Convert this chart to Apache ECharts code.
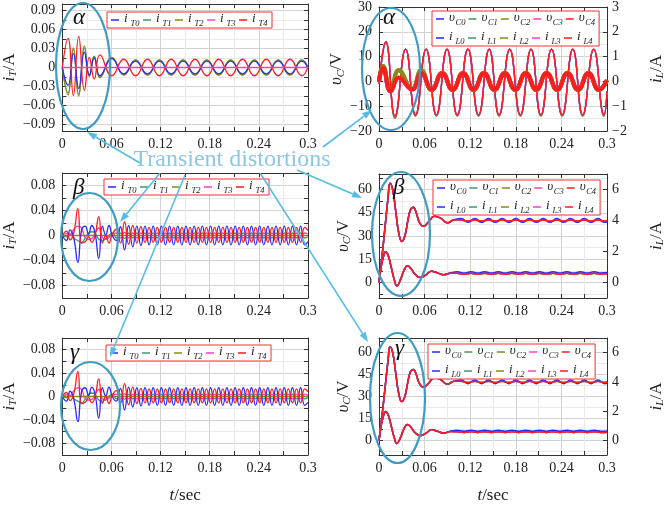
<!DOCTYPE html>
<html>
<head>
<meta charset="utf-8">
<script src="https://cdn.jsdelivr.net/npm/echarts@6/dist/echarts.min.js"></script>
<style>
html, body { margin: 0; padding: 0; background: #fff; }
#main { width: 667px; height: 505px; }
</style>
</head>
<body>
<div id="main"></div>
<script>
// ---------- tick values ----------
const xTicks = [0, 0.03, 0.06, 0.09, 0.12, 0.15, 0.18, 0.21, 0.24, 0.27, 0.3];
const xLabels = [0, 0.06, 0.12, 0.18, 0.24, 0.3];
const iTTicksA = [-0.09, -0.075, -0.06, -0.045, -0.03, -0.015, 0, 0.015, 0.03, 0.045, 0.06, 0.075, 0.09];
const iTLabelsA = [-0.09, -0.06, -0.03, 0, 0.03, 0.06, 0.09];
const iTTicksB = [-0.08, -0.06, -0.04, -0.02, 0, 0.02, 0.04, 0.06, 0.08];
const iTLabelsB = [-0.08, -0.04, 0, 0.04, 0.08];
const vTicksA = [-20, -15, -10, -5, 0, 5, 10, 15, 20, 25, 30];
const vLabelsA = [-20, -10, 0, 10, 20, 30];
const iLTicksA = [-2, -1, 0, 1, 2, 3];
const vTicksB = [-7.5, 0, 7.5, 15, 22.5, 30, 37.5, 45, 52.5, 60, 67.5];
const vLabelsB = [0, 15, 30, 45, 60];
const iLTicksB = [0, 2, 4, 6];

// ---------- alpha: transformer currents ----------
const tTa = [0, 0.007, 0.0135, 0.02, 0.027, 0.033, 0.039, 0.046, 0.0605, 0.075, 0.0895, 0.104, 0.1185,
  0.133, 0.1475, 0.162, 0.1765, 0.191, 0.2055, 0.22, 0.2345, 0.249, 0.2635, 0.278, 0.2925, 0.3];
const iT0a = [0, -0.028, 0.022, -0.033, 0.024, -0.012, 0.015, -0.013, 0.014,
  -0.010, 0.010, -0.010, 0.010, -0.010, 0.010, -0.010, 0.010,
  -0.010, 0.010, -0.010, 0.010, -0.010, 0.010, -0.010, 0.010, -0.001];
const iT1a = [0, -0.040, 0.029, -0.042, 0.031, -0.013, 0.017, -0.015, 0.015,
  -0.0115, 0.0115, -0.0115, 0.0115, -0.0115, 0.0115, -0.0115, 0.0115,
  -0.0115, 0.0115, -0.0115, 0.0115, -0.0115, 0.0115, -0.0115, 0.0115, -0.001];
const iT2a = [0, -0.043, 0.031, -0.045, 0.034, -0.014, 0.018, -0.016, 0.016,
  -0.012, 0.012, -0.012, 0.012, -0.012, 0.012, -0.012, 0.012,
  -0.012, 0.012, -0.012, 0.012, -0.012, 0.012, -0.012, 0.012, -0.001];
const iT4a = [0, 0.046, -0.044, 0.049, -0.036, 0.016, -0.018, 0.020, -0.013,
  0.013, -0.013, 0.013, -0.013, 0.013, -0.013, 0.013, -0.013,
  0.013, -0.013, 0.013, -0.013, 0.013, -0.013, 0.013, -0.013, 0.001];
const tFlat = [0, 0.3];
const flat0 = [0, 0];

// ---------- beta / gamma: transformer currents ----------
const tTb = [0, 0.005, 0.0095, 0.014, 0.019, 0.0235, 0.028, 0.032, 0.036, 0.04, 0.0445, 0.049, 0.053, 0.057, 0.061, 0.066, 0.071, 0.076,
  0.081, 0.086, 0.091, 0.096, 0.101, 0.106, 0.111, 0.116, 0.121, 0.126, 0.131, 0.136, 0.141, 0.146, 0.151, 0.156,
  0.161, 0.166, 0.171, 0.176, 0.181, 0.186, 0.191, 0.196, 0.201, 0.206, 0.211, 0.216, 0.221, 0.226, 0.231, 0.236,
  0.241, 0.246, 0.251, 0.256, 0.261, 0.266, 0.271, 0.276, 0.281, 0.286, 0.291, 0.296, 0.3];
const iT0b = [0, -0.008, 0.009, -0.004, -0.043, 0.008, 0.015, 0.002, 0.016, 0.004, -0.037, 0.015, 0.001, 0.016, 0.000, -0.008, 0.014, -0.023,
  0.016, -0.018, 0.015, -0.016,
  0.015, -0.015, 0.015, -0.015, 0.015, -0.015, 0.015, -0.015, 0.015, -0.015,
  0.015, -0.015, 0.015, -0.015, 0.015, -0.015, 0.015, -0.015, 0.015, -0.015,
  0.015, -0.015, 0.015, -0.015, 0.015, -0.015, 0.015, -0.015, 0.015, -0.015,
  0.015, -0.015, 0.015, -0.015, 0.015, -0.015, 0.015, -0.015, 0.015, -0.015,
  -0.010];
const iT1b = [0, -0.002, 0.002, -0.004, -0.008, -0.011, -0.004, 0.004, 0.006, 0.004, -0.006, -0.008, -0.005, 0.000, 0.004, -0.004, 0.004, -0.005,
  0.004, -0.004, 0.004, -0.004, 0.004, -0.004, 0.004, -0.004, 0.004, -0.004, 0.004,
  -0.004, 0.004, -0.004, 0.004, -0.004, 0.004, -0.004, 0.004, -0.004, 0.004, -0.004,
  0.004, -0.004, 0.004, -0.004, 0.004, -0.004, 0.004, -0.004, 0.004, -0.004, 0.004,
  -0.004, 0.004, -0.004, 0.004, -0.004, 0.004, -0.004, 0.004, -0.004, 0.004, -0.004,
  -0.002];
const iT3b = [0, 0.003, 0.002, 0.010, 0.015, 0.012, -0.004, -0.006, -0.005, 0.004, 0.012, -0.004, -0.006, -0.003, 0.002, 0.004, -0.004, 0.005,
  -0.004, 0.004, -0.004, 0.004, -0.004, 0.004, -0.004, 0.004, -0.004, 0.004, -0.004,
  0.004, -0.004, 0.004, -0.004, 0.004, -0.004, 0.004, -0.004, 0.004, -0.004, 0.004,
  -0.004, 0.004, -0.004, 0.004, -0.004, 0.004, -0.004, 0.004, -0.004, 0.004, -0.004,
  0.004, -0.004, 0.004, -0.004, 0.004, -0.004, 0.004, -0.004, 0.004, -0.004, 0.004,
  0.002];
const iT4b = [0, 0.007, -0.007, 0.004, 0.043, -0.012, -0.010, -0.002, -0.011, 0.000, 0.030, -0.012, 0.000, -0.012, 0.002, 0.010, -0.012, 0.022,
  -0.014, 0.016, -0.012, 0.014,
  -0.011, 0.013, -0.011, 0.013, -0.011, 0.013, -0.011, 0.013, -0.011, 0.013,
  -0.011, 0.013, -0.011, 0.013, -0.011, 0.013, -0.011, 0.013, -0.011, 0.013,
  -0.011, 0.013, -0.011, 0.013, -0.011, 0.013, -0.011, 0.013, -0.011, 0.013,
  -0.011, 0.013, -0.011, 0.013, -0.011, 0.013, -0.011, 0.013, -0.011, 0.013,
  0.008];

// ---------- alpha: capacitor voltage and inductor current ----------
const tVa = [0, 0.009, 0.021, 0.035, 0.048, 0.062, 0.0755, 0.0895, 0.103, 0.117, 0.131, 0.145, 0.158,
  0.172, 0.186, 0.2, 0.213, 0.227, 0.241, 0.255, 0.268, 0.2825, 0.296, 0.3];
const vC4a = [-1, 16, -14, 13, -13.5, 13, -13.5, 13, -13.5, 13, -13.5, 13, -13.5,
  13, -13.5, 13, -13.5, 13, -13.5, 13, -13.5, 13, -13.5, -4];
const vC2a = [-1, 15.5, -15, 13, -14, 13, -14, 13, -14, 13, -14, 13, -14,
  13, -14, 13, -14, 13, -14, 13, -14, 13, -14, -4];
const tIa = [0, 0.0052, 0.0153, 0.026, 0.0435, 0.0556, 0.0694, 0.0831, 0.0969, 0.1106, 0.1244, 0.1381,
  0.1519, 0.1656, 0.1794, 0.1931, 0.2069, 0.2206, 0.2344, 0.2481, 0.2619, 0.2756, 0.2894, 0.3];
const iL4a = [0, 0.55, -0.40, 0.15, -0.32, 0.33, -0.33, 0.33, -0.33, 0.33, -0.33, 0.33,
  -0.33, 0.33, -0.33, 0.33, -0.33, 0.33, -0.33, 0.33, -0.33, 0.33, -0.33, 0.05];
const iL2a = [0, 0.62, -0.38, 0.45, -0.30, 0.45, -0.35, 0.35, -0.35, 0.35, -0.35, 0.35,
  -0.35, 0.35, -0.35, 0.35, -0.35, 0.35, -0.35, 0.35, -0.35, 0.35, -0.35, 0.05];

// ---------- beta / gamma: capacitor voltage and inductor current ----------
const tVb = [0, 0.004, 0.008, 0.012, 0.0145, 0.018, 0.022, 0.026, 0.03, 0.034, 0.038, 0.0415, 0.045, 0.049, 0.053, 0.0585, 0.065, 0.073, 0.081, 0.09, 0.099,
  0.108, 0.117, 0.126, 0.135, 0.144, 0.153, 0.162, 0.171, 0.18, 0.189, 0.198,
  0.207, 0.216, 0.225, 0.234, 0.243, 0.252, 0.261, 0.27, 0.279, 0.288, 0.297, 0.3];
const vC4b = [0, 17, 36, 55, 64, 60, 46, 32, 26.5, 30, 40, 47, 48.5, 45, 39, 36.3, 39, 42.8, 41.5, 38.5, 40.5,
  40.4, 39.6, 40.4, 39.6, 40.4, 39.6, 40.4, 39.6, 40.4, 39.6, 40.4,
  39.6, 40.4, 39.6, 40.4, 39.6, 40.4, 39.6, 40.4, 39.6, 40.4, 39.6, 40];
const vC0b = [0, 17, 36, 55, 64, 60, 46, 32, 26.5, 30, 40, 47, 48.5, 45, 39, 36.3, 39, 42.8, 41.5, 38.5, 40.5,
  41.3, 38.8, 41.3, 38.8, 41.3, 38.8, 41.3, 38.8, 41.3, 38.8, 41.3,
  38.8, 41.3, 38.8, 41.3, 38.8, 41.3, 38.8, 41.3, 38.8, 41.3, 38.8, 39];
const tIb = [0, 0.003, 0.006, 0.0085, 0.012, 0.016, 0.02, 0.0235, 0.028, 0.033, 0.0375, 0.042, 0.048, 0.0545, 0.062, 0.069, 0.077, 0.085, 0.094,
  0.103, 0.112, 0.121, 0.13, 0.139, 0.148, 0.157, 0.166, 0.175, 0.184, 0.193,
  0.202, 0.211, 0.22, 0.229, 0.238, 0.247, 0.256, 0.265, 0.274, 0.283, 0.292, 0.3];
const iL4b = [0, 1.05, 1.7, 1.98, 1.75, 1.0, 0.2, -0.22, 0.15, 0.8, 1.08, 0.9, 0.5, 0.32, 0.5, 0.72, 0.62, 0.5, 0.6,
  0.59, 0.54, 0.59, 0.54, 0.59, 0.54, 0.59, 0.54, 0.59, 0.54, 0.59,
  0.54, 0.59, 0.54, 0.59, 0.54, 0.59, 0.54, 0.59, 0.54, 0.59, 0.54, 0.56];
const iL0b = [0, 1.05, 1.7, 1.98, 1.75, 1.0, 0.2, -0.22, 0.15, 0.8, 1.08, 0.9, 0.5, 0.32, 0.5, 0.72, 0.62, 0.5, 0.62,
  0.69, 0.62, 0.69, 0.62, 0.69, 0.62, 0.69, 0.62, 0.69, 0.62, 0.69,
  0.62, 0.69, 0.62, 0.69, 0.62, 0.69, 0.62, 0.69, 0.62, 0.69, 0.62, 0.64];

// ---------- styling ----------
const SERIF = '"Liberation Serif", "DejaVu Serif", serif';
const C = ['#2a2aff', '#3f9a62', '#8a8a12', '#ff3ccb', '#ff1c1c'];
const MAJ = '#d2d2d2', MIN = '#e9e9e9';
const AX = '#333';

const grids = [
  { left: 61, top: 4, width: 247, height: 127 },   // alpha iT
  { left: 379, top: 5, width: 248, height: 126 },  // alpha vC/iL
  { left: 61, top: 173, width: 247, height: 125 }, // beta iT
  { left: 379, top: 174, width: 248, height: 124 },// beta vC/iL
  { left: 61, top: 338, width: 247, height: 127 }, // gamma iT
  { left: 379, top: 338, width: 248, height: 127 } // gamma vC/iL
];

const fmt = v => (v < 0 ? '\u2212' : '') + Math.abs(v);

const nameRich = {
  v: { fontFamily: SERIF, fontStyle: 'italic', fontSize: 17, color: '#222' },
  s: { fontFamily: SERIF, fontStyle: 'italic', fontSize: 11, color: '#222', padding: [8, 0, 0, 0] },
  n: { fontFamily: SERIF, fontSize: 17, color: '#222' }
};
const legRich = {
  v: { fontFamily: SERIF, fontStyle: 'italic', fontSize: 13, color: '#222', width: 6.5, lineHeight: 13, padding: [0, 0, 3, 0] },
  s: { fontFamily: SERIF, fontStyle: 'italic', fontSize: 8.5, color: '#222', width: 9.5, lineHeight: 9, padding: [7, 0, 0, 0] }
};

function xAxis(g, top) {
  const named = !top && (g === 4 || g === 5);
  return {
    type: 'value', gridIndex: g, position: top ? 'top' : 'bottom', min: 0, max: 0.3,
    axisLine: { show: true, onZero: false, lineStyle: { color: AX, width: 1 } },
    axisTick: { show: true, inside: true, length: 4, customValues: xTicks, lineStyle: { color: AX } },
    axisLabel: { show: !top, customValues: xLabels, margin: 6, fontFamily: SERIF, fontSize: 14, color: '#222', formatter: fmt },
    splitLine: { show: !top, lineStyle: { color: [MAJ, MIN], width: 1 } },
    name: named ? '{v|t}{n|/sec}' : '', nameLocation: 'middle', nameGap: 32,
    nameTextStyle: { rich: nameRich }
  };
}

function yAxis(g, right, min, max, ticks, labels, showLabel, name, colors, gap) {
  return {
    type: 'value', gridIndex: g, position: right ? 'right' : 'left', min: min, max: max,
    axisLine: { show: true, onZero: false, lineStyle: { color: AX, width: 1 } },
    axisTick: { show: true, inside: true, length: 4, customValues: ticks, lineStyle: { color: AX } },
    axisLabel: { show: showLabel, customValues: labels, margin: right ? 5 : 7, fontFamily: SERIF, fontSize: 14, color: '#222', formatter: fmt },
    splitLine: { show: !!colors, lineStyle: { color: colors || [MAJ], width: 1 } },
    name: name || '', nameLocation: 'middle', nameRotate: 90, nameGap: gap || 40,
    nameTextStyle: { rich: nameRich }
  };
}

const nameIT = '{v|i}{s|T}{n|/A}';
const nameVC = '{v|\u03c5}{s|C}{n|/V}';
const nameIL = '{v|i}{s|L}{n|/A}';

const xAxes = [], yAxes = [];
for (let g = 0; g < 6; g++) { xAxes.push(xAxis(g, false)); xAxes.push(xAxis(g, true)); }
// alpha
yAxes.push(yAxis(0, false, -0.1, 0.1, iTTicksA, iTLabelsA, true, nameIT, [MAJ, MIN], 40));
yAxes.push(yAxis(0, true, -0.1, 0.1, iTTicksA, iTLabelsA, false));
yAxes.push(yAxis(1, false, -20, 30, vTicksA, vLabelsA, true, nameVC, [MAJ, MIN], 26));
yAxes.push(yAxis(1, true, -2, 3, iLTicksA, iLTicksA, true, nameIL, null, 40));
// beta
yAxes.push(yAxis(2, false, -0.1, 0.1, iTTicksB, iTLabelsB, true, nameIT, [MAJ, MIN], 40));
yAxes.push(yAxis(2, true, -0.1, 0.1, iTTicksB, iTLabelsB, false));
yAxes.push(yAxis(3, false, -10, 70, vTicksB, vLabelsB, true, nameVC, [MIN, MAJ], 26));
yAxes.push(yAxis(3, true, -1, 7, iLTicksB, iLTicksB, true, nameIL, null, 40));
// gamma
yAxes.push(yAxis(4, false, -0.1, 0.1, iTTicksB, iTLabelsB, true, nameIT, [MAJ, MIN], 40));
yAxes.push(yAxis(4, true, -0.1, 0.1, iTTicksB, iTLabelsB, false));
yAxes.push(yAxis(5, false, -10, 70, vTicksB, vLabelsB, true, nameVC, [MIN, MAJ], 26));
yAxes.push(yAxis(5, true, -1, 7, iLTicksB, iLTicksB, true, nameIL, null, 40));

function mk(name, g, right, t, v, ci, w) {
  return {
    name: name, type: 'line', xAxisIndex: g * 2, yAxisIndex: g * 2 + (right ? 1 : 0),
    data: t.map((x, i) => [x, v[i]]),
    symbol: 'none', showSymbol: false, smooth: 0.5, silent: true,
    lineStyle: { width: w, color: C[ci] }, itemStyle: { color: C[ci] }
  };
}

const series = [
  // alpha iT
  mk('iT1', 0, false, tTa, iT1a, 1, 1.3),
  mk('iT2', 0, false, tTa, iT2a, 2, 1.3),
  mk('iT0', 0, false, tTa, iT0a, 0, 1.3),
  mk('iT4', 0, false, tTa, iT4a, 4, 1.3),
  mk('iT3', 0, false, tFlat, flat0, 3, 1.3),
  // alpha vC / iL
  mk('vC1', 1, false, tVa, vC2a, 1, 1.3),
  mk('vC2', 1, false, tVa, vC2a, 2, 1.3),
  mk('vC0', 1, false, tVa, vC4a, 0, 1.3),
  mk('vC3', 1, false, tVa, vC4a, 3, 1.3),
  mk('vC4', 1, false, tVa, vC4a, 4, 1.3),
  mk('iL0', 1, true, tIa, iL4a, 0, 4),
  mk('iL3', 1, true, tIa, iL4a, 3, 4),
  mk('iL1', 1, true, tIa, iL2a, 1, 4),
  mk('iL2', 1, true, tIa, iL2a, 2, 4),
  mk('iL4', 1, true, tIa, iL4a, 4, 4)
];
[2, 4].forEach(g => {
  series.push(
    mk('iT1', g, false, tTb, iT1b, 1, 1.3),
    mk('iT3', g, false, tTb, iT3b, 3, 1.3),
    mk('iT2', g, false, tFlat, flat0, 2, 1.3),
    mk('iT0', g, false, tTb, iT0b, 0, 1.3),
    mk('iT4', g, false, tTb, iT4b, 4, 1.3)
  );
});
[3, 5].forEach(g => {
  series.push(
    mk('vC1', g, false, tVb, vC4b, 1, 1.5),
    mk('vC2', g, false, tVb, vC4b, 2, 1.5),
    mk('vC3', g, false, tVb, vC4b, 3, 1.5),
    mk('vC0', g, false, tVb, vC0b, 0, 1.5),
    mk('vC4', g, false, tVb, vC4b, 4, 1.5),
    mk('iL1', g, true, tIb, iL4b, 1, 1.5),
    mk('iL2', g, true, tIb, iL4b, 2, 1.5),
    mk('iL3', g, true, tIb, iL4b, 3, 1.5),
    mk('iL0', g, true, tIb, iL0b, 0, 1.5),
    mk('iL4', g, true, tIb, iL4b, 4, 1.5)
  );
});

const legFmt = name => '{v|' + (name[0] === 'v' ? '\u03c5' : 'i') + '}{s|' + name.slice(1) + '}';
function legend(left, top, data) {
  return {
    left: left, top: top, orient: 'horizontal', data: data,
    icon: 'rect', itemWidth: 8, itemHeight: 1.5, itemGap: 3,
    padding: [0, 4, 0, 4], borderColor: '#f03030', borderWidth: 1, backgroundColor: '#fff',
    formatter: legFmt, textStyle: { rich: legRich }, selectedMode: false
  };
}
const namesT = ['iT0', 'iT1', 'iT2', 'iT3', 'iT4'];
const namesVI = ['vC0', 'vC1', 'vC2', 'vC3', 'vC4', '', 'iL0', 'iL1', 'iL2', 'iL3', 'iL4'];

// ---------- annotations ----------
const EC = '#3e9cc4', AC = '#55bde5';
function ellipse(cx, cy, rx, ry) {
  return { type: 'ellipse', z: 100, silent: true, shape: { cx: cx, cy: cy, rx: rx, ry: ry },
    style: { fill: 'none', stroke: EC, lineWidth: 2.2 } };
}
function arrow(x1, y1, x2, y2) {
  const a = Math.atan2(y2 - y1, x2 - x1), L = 10, W = 3.5;
  const bx = x2 - L * Math.cos(a), by = y2 - L * Math.sin(a);
  const px = -Math.sin(a) * W, py = Math.cos(a) * W;
  return [
    { type: 'line', z: 100, silent: true, shape: { x1: x1, y1: y1, x2: bx, y2: by }, style: { stroke: AC, lineWidth: 1.6 } },
    { type: 'polygon', z: 100, silent: true, shape: { points: [[x2, y2], [bx + px, by + py], [bx - px, by - py]] }, style: { fill: AC } }
  ];
}
function greek(ch, x, y) {
  return { type: 'text', z: 101, silent: true,
    style: { text: ch, x: x, y: y, font: 'italic 23px ' + SERIF, fill: '#111', textAlign: 'left', textVerticalAlign: 'middle' } };
}

const graphic = [
  ellipse(83, 66, 27, 63),
  ellipse(391, 69, 29, 61),
  ellipse(89.5, 237, 28.5, 44),
  ellipse(401, 234, 29, 62),
  ellipse(90.5, 406, 29.5, 44),
  ellipse(397.5, 398, 27.5, 65),
  ...arrow(140, 163, 87, 132),
  ...arrow(323, 147, 372, 110),
  ...arrow(297, 170, 362, 198),
  ...arrow(260, 173, 368, 342),
  ...arrow(160, 173, 120, 222),
  ...arrow(185, 175, 110, 357),
  { type: 'text', z: 102, silent: true,
    style: { text: 'Transient distortions', x: 232, y: 160, font: '24px ' + SERIF, fill: '#8cc8e3', textAlign: 'center', textVerticalAlign: 'middle' } },
  greek('\u03b1', 73, 18),
  greek('\u03b1', 383, 18),
  greek('\u03b2', 73, 188),
  greek('\u03b2', 393, 188),
  greek('\u03b3', 70, 353),
  greek('\u03b3', 395, 349)
];

const chart = echarts.init(document.getElementById('main'), null, { renderer: 'canvas' });
chart.setOption({
  animation: false,
  backgroundColor: '#fff',
  grid: grids,
  xAxis: xAxes,
  yAxis: yAxes,
  legend: [
    legend(107, 12, namesT),
    legend(432, 11, namesVI),
    legend(104, 179, namesT),
    legend(433, 180, namesVI),
    legend(106, 345, namesT),
    legend(428, 344, namesVI)
  ],
  series: series,
  graphic: graphic
});
</script>
</body>
</html>
